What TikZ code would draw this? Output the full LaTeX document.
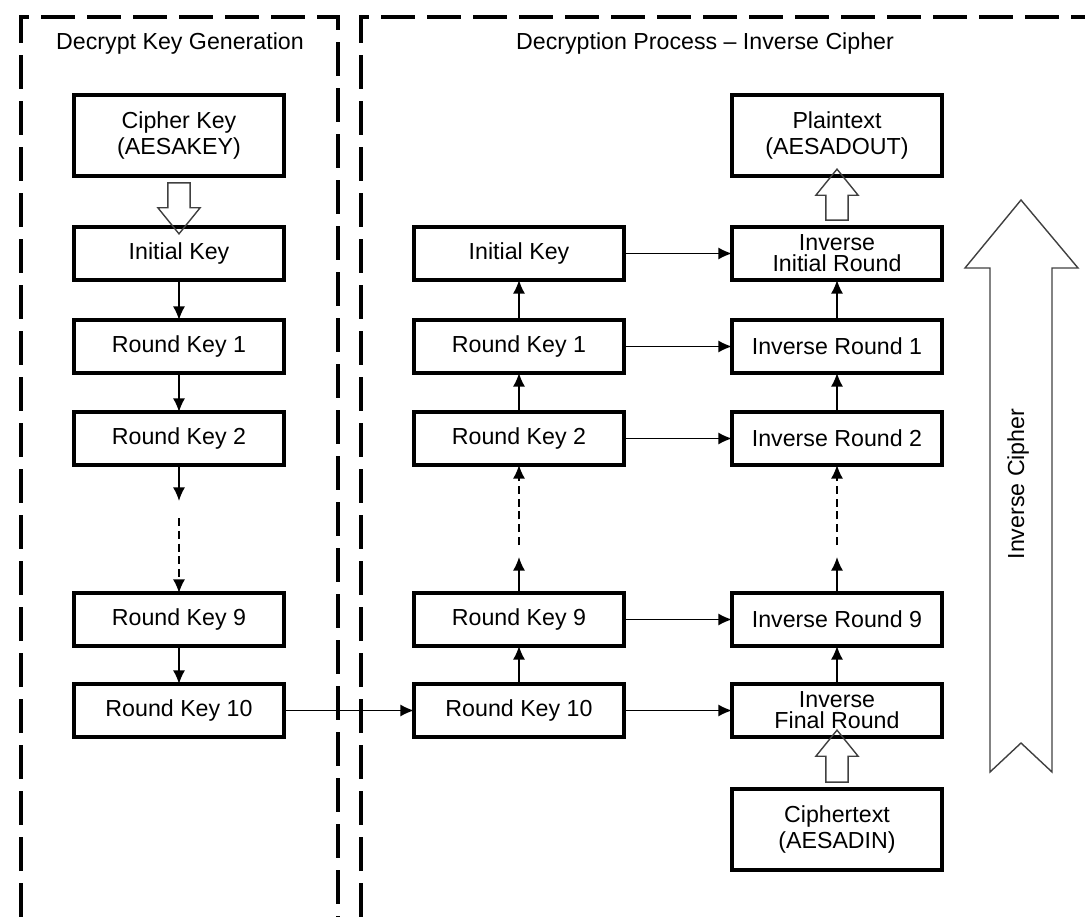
\documentclass[tikz,border=0pt]{standalone}
\usepackage{fontspec}
\setmainfont{Liberation Sans}
\usetikzlibrary{shapes, shapes.arrows, calc, arrows.meta, positioning}

\begin{document}
\begin{tikzpicture}[>={Latex[length=3.4mm,width=3mm]},
  font=\fontsize{16.5}{18}\selectfont,
  box/.style={draw, rectangle, line width=2.4pt, outer sep=0pt, minimum width=5.25cm, minimum height=1.325cm, align=center, inner sep=0pt},
  tallbox/.style={box, minimum height=2.025cm},
  link/.style={->, line width=1.1pt},
  gaplink/.style={link, dash pattern=on 2mm off 1.2mm},
  frame/.style={line width=2.4pt, dash pattern=on 0.85cm off 0.3cm},
  fatarrow/.style={draw=black!75, line width=1pt, single arrow, single arrow head extend=0.25cm, outer sep=0pt,
                   single arrow tip angle=78, inner sep=0.26cm, minimum height=1.275cm}]

\useasboundingbox (0,0) rectangle (27.125,-22.925);

% frames
\draw[frame] (0.525,-22.925) -- (0.525,-0.425) -- (8.45,-0.425) -- (8.45,-22.925);
\draw[frame] (9.025,-22.925) -- (9.025,-0.425) -- (27.125,-0.425);

\node (keygen) at (4.5,-1.1) {Decrypt Key Generation};
\node (decproc) at (17.625,-1.1) {Decryption Process -- Inverse Cipher};

% key generation
\node[tallbox] (ck) at (4.475,-3.3875) {Cipher Key\\(AESAKEY)};
\node[box, below=1.275cm of ck] (ik) {Initial Key};
\node[box, below=1cm of ik] (rk1) {Round Key 1};
\node[box, below=0.975cm of rk1] (rk2) {Round Key 2};
\node[box, below=3.2cm of rk2] (rk9) {Round Key 9};
\node[box, below=0.95cm of rk9] (rk10) {Round Key 10};

% inverse cipher
\node[box, right=3.25cm of ik] (mik) {Initial Key};
\node[box, right=3.25cm of rk1] (mrk1) {Round Key 1};
\node[box, right=3.25cm of rk2] (mrk2) {Round Key 2};
\node[box, right=3.25cm of rk9] (mrk9) {Round Key 9};
\node[box, right=3.25cm of rk10] (mrk10) {Round Key 10};

\node[box, right=2.7cm of mik] (iir) {Inverse\\[-3pt]Initial Round};
\node[box, right=2.7cm of mrk1] (ir1) {Inverse Round 1};
\node[box, right=2.7cm of mrk2] (ir2) {Inverse Round 2};
\node[box, right=2.7cm of mrk9] (ir9) {Inverse Round 9};
\node[box, right=2.7cm of mrk10] (ifr) {Inverse\\[-3pt]Final Round};
\node[tallbox, above=1.275cm of iir] (pt) {Plaintext\\(AESADOUT)};
\node[tallbox, below=1.3cm of ifr] (ct) {Ciphertext\\(AESADIN)};

% hollow arrows
\node[fatarrow, rotate=-90] (ckarrow) at ($(ck.south)!0.5!(ik.north)$) {};
\node[fatarrow, rotate=90] (ptarrow) at ($(iir.north)!0.5!(pt.south)$) {};
\node[fatarrow, rotate=90, minimum height=1.3cm] (ctarrow) at ($(ct.north)!0.5!(ifr.south)$) {};

\draw[draw=black!75, line width=1pt] (25.525,-5.0) -- (26.95,-6.7) -- (26.3,-6.7) -- (26.3,-19.3)
  -- (25.525,-18.575) -- (24.75,-19.3) -- (24.75,-6.7) -- (24.125,-6.7) -- cycle;
\node[rotate=90] (invcipher) at (25.45,-12.1) {Inverse Cipher};

% key schedule
\coordinate[below=0.9cm of rk2] (kgap1);
\coordinate[above=1.875cm of rk9] (kgap2);
\draw[link] (ik) -- (rk1);
\draw[link] (rk1) -- (rk2);
\draw[link] (rk2) -- (kgap1);
\draw[gaplink] (kgap2) -- (rk9);
\draw[link] (rk9) -- (rk10);
\draw[link] (rk10) -- (mrk10);

\coordinate[above=0.9cm of mrk9] (mgap1);
\coordinate[below=2cm of mrk2] (mgap2);
\draw[link] (mrk10) -- (mrk9);
\draw[link] (mrk9) -- (mgap1);
\draw[gaplink] (mgap2) -- (mrk2);
\draw[link] (mrk2) -- (mrk1);
\draw[link] (mrk1) -- (mik);

\coordinate[above=0.9cm of ir9] (rgap1);
\coordinate[below=2cm of ir2] (rgap2);
\draw[link] (ifr) -- (ir9);
\draw[link] (ir9) -- (rgap1);
\draw[gaplink] (rgap2) -- (ir2);
\draw[link] (ir2) -- (ir1);
\draw[link] (ir1) -- (iir);

\draw[link] (mik) -- (iir);
\draw[link] (mrk1) -- (ir1);
\draw[link] (mrk2) -- (ir2);
\draw[link] (mrk9) -- (ir9);
\draw[link] (mrk10) -- (ifr);
\end{tikzpicture}
\end{document}
